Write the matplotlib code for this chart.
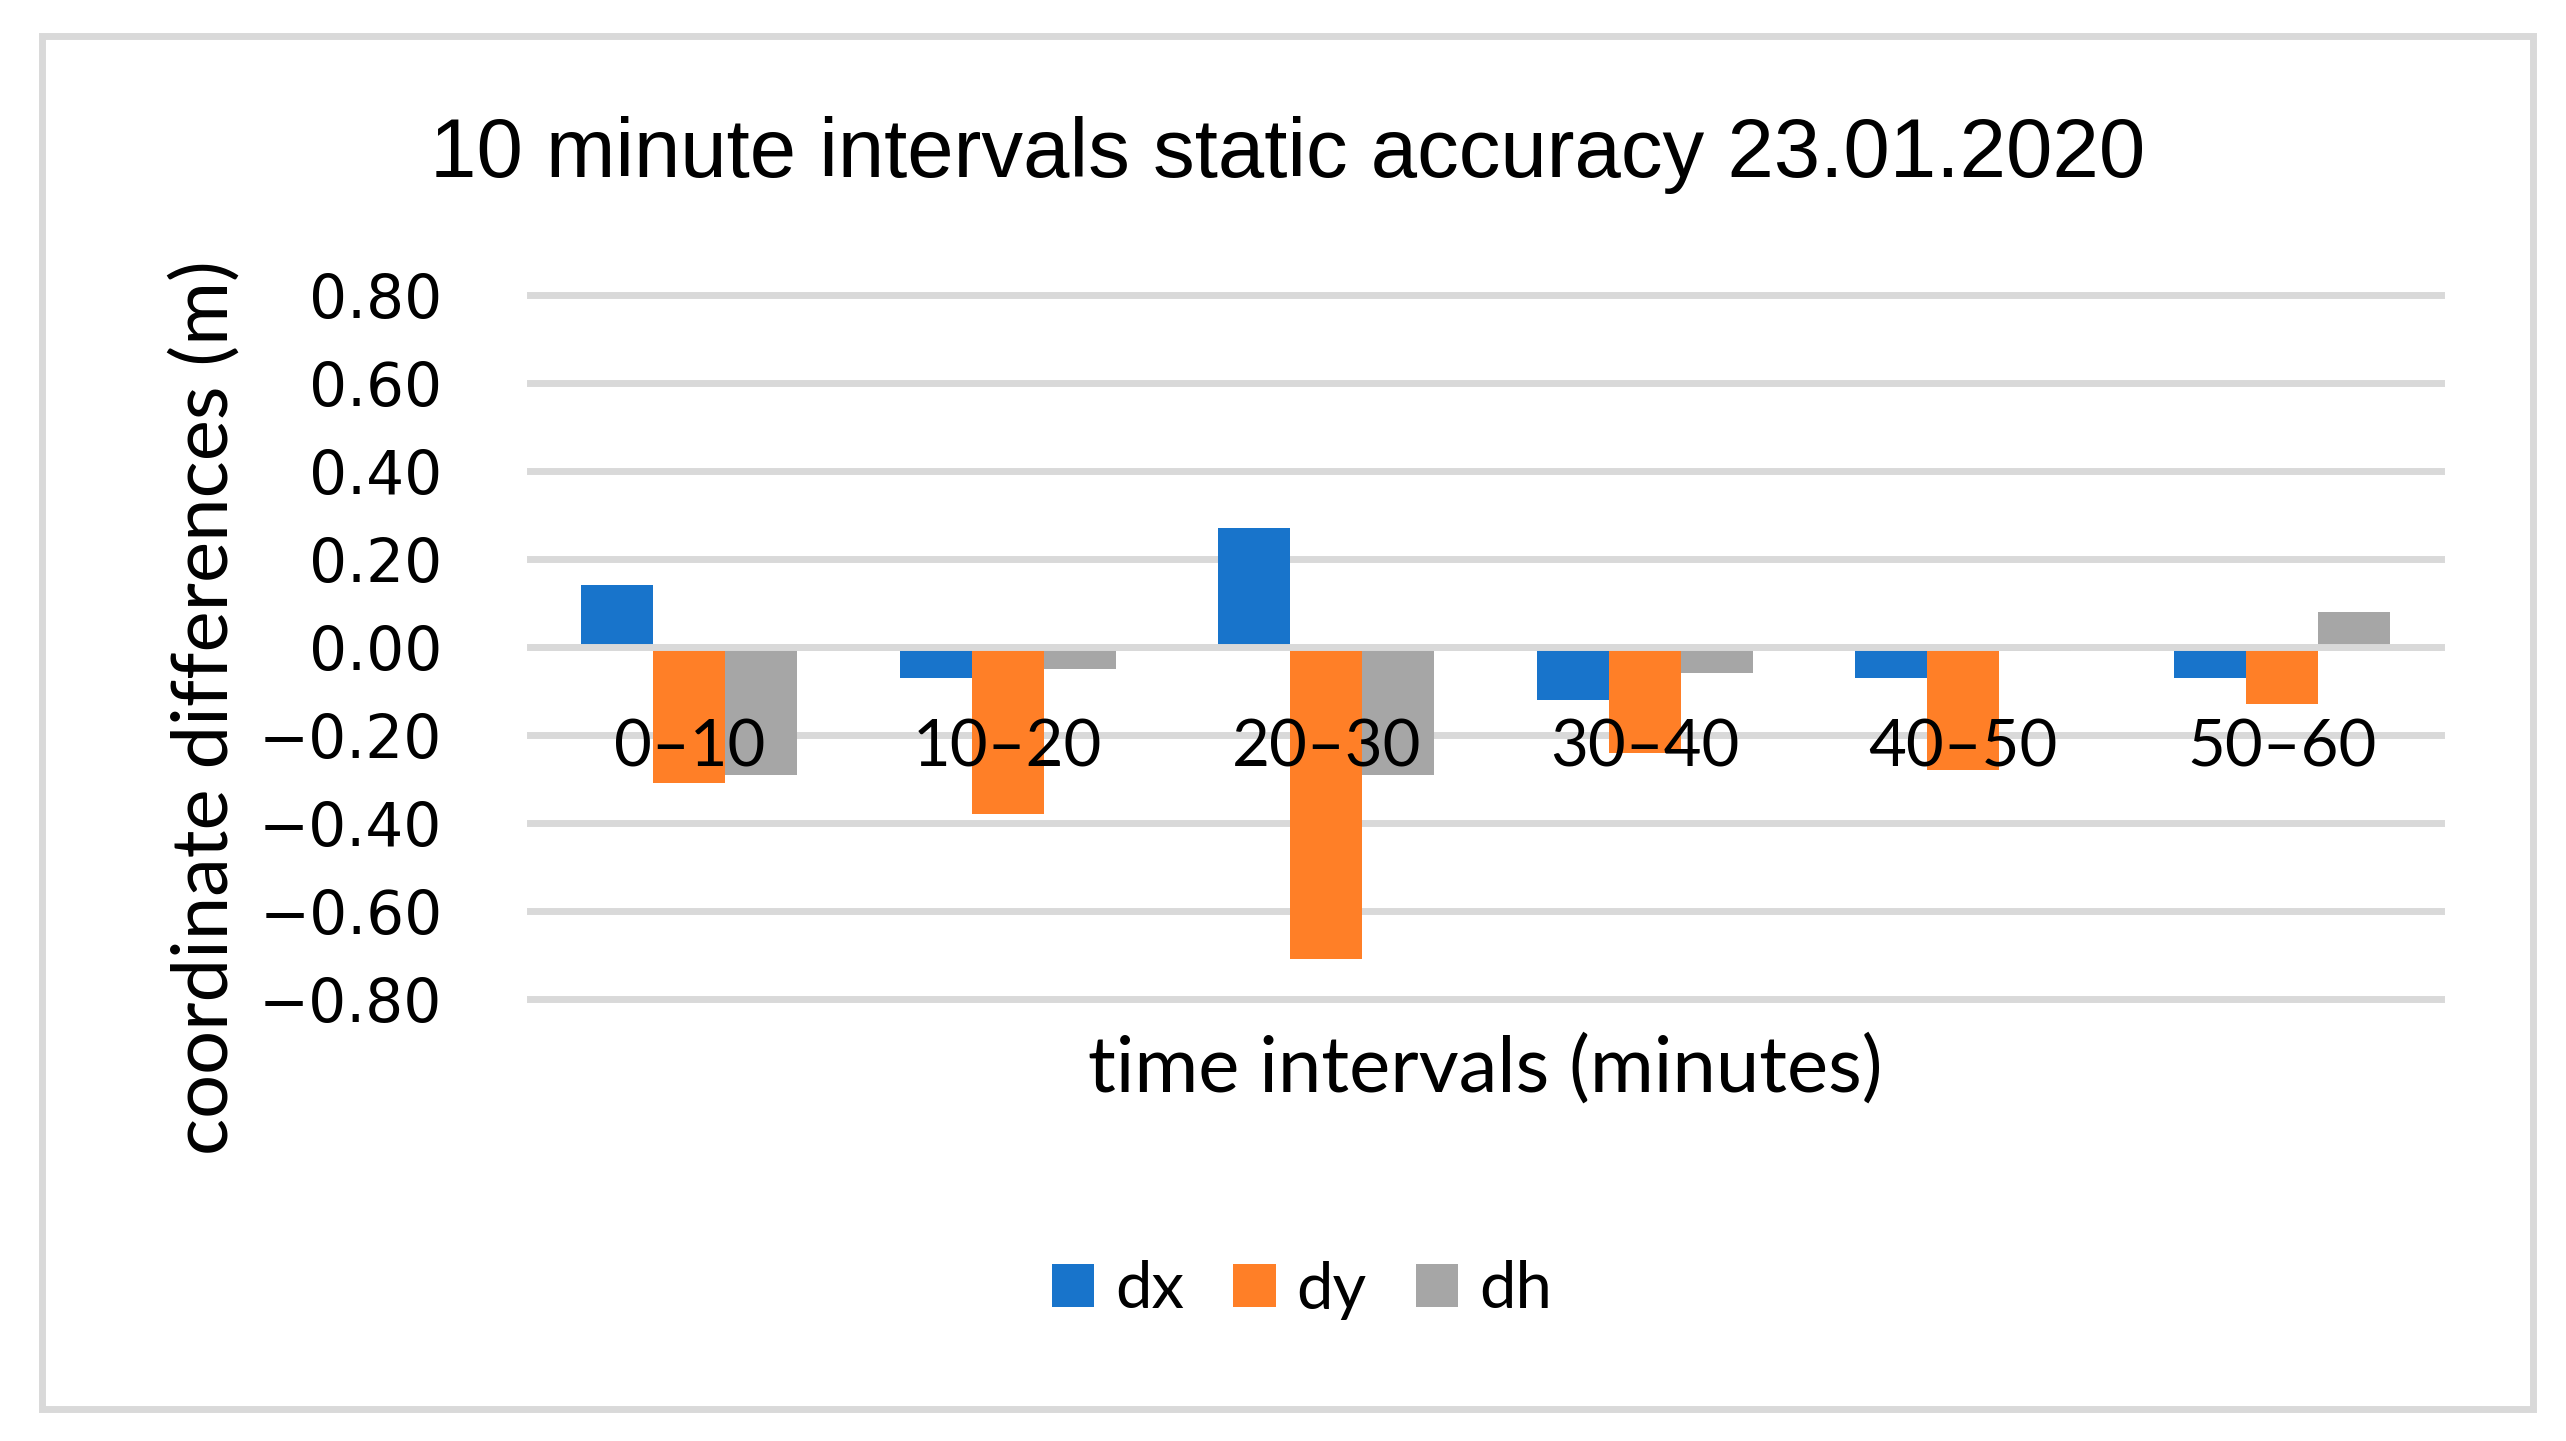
import matplotlib
matplotlib.use("Agg")
import matplotlib.pyplot as plt
from matplotlib.patches import Rectangle
import numpy as np

categories = ["0–10", "10–20", "20–30", "30–40", "40–50", "50–60"]
dx = [0.14, -0.07, 0.27, -0.12, -0.07, -0.07]
dy = [-0.31, -0.38, -0.71, -0.24, -0.28, -0.13]
dh = [-0.29, -0.05, -0.29, -0.06, -0.01, 0.08]
series_names = ["dx", "dy", "dh"]
yticks = [0.80, 0.60, 0.40, 0.20, 0.00, -0.20, -0.40, -0.60, -0.80]

colors = ["#1874CB", "#FF7F27", "#A6A6A6"]
grid_c = "#D9D9D9"

W, H = 2566, 1441
fig = plt.figure(figsize=(W / 100, H / 100), dpi=100)
fig.patch.set_facecolor("white")

# chart border
fig.patches.append(Rectangle((42 / W, 1 - 1409 / H), (2533 - 42) / W, (1409 - 36) / H,
                             transform=fig.transFigure, fill=False,
                             edgecolor=grid_c, linewidth=5))

ax = fig.add_axes([530 / W, 1 - 999 / H, (2441 - 530) / W, (999 - 295) / H])
ax.set_facecolor("none")
ax.set_xlim(-0.5, len(categories) - 0.5)
ax.set_ylim(-0.8, 0.8)

for v in yticks:
    ax.axhline(v, color=grid_c, linewidth=5, zorder=0.5, clip_on=False)

x = np.arange(len(categories))
w = 0.226
for i, (vals, name) in enumerate(zip([dx, dy, dh], series_names)):
    ax.bar(x + (i - 1) * w, vals, width=w, color=colors[i], label=name, zorder=2)

ax.axhline(0, color=grid_c, linewidth=5, zorder=3)

for s in ["top", "right", "left"]:
    ax.spines[s].set_visible(False)
ax.spines["bottom"].set_position(("data", 0))
ax.spines["bottom"].set_visible(False)

ax.set_yticks(yticks)
ax.set_yticklabels([f"{v:.2f}".replace("-", "\u2212") for v in yticks],
                   fontfamily="DejaVu Sans", fontsize=43)
ax.tick_params(axis="y", length=0, pad=63)

ax.set_xticks(x)
ax.set_xticklabels(categories, fontfamily="Lato", fontsize=47)
ax.tick_params(axis="x", length=0, pad=86)
for lab in ax.get_xticklabels():
    lab.set_verticalalignment("baseline")
ax.xaxis.set_zorder(5)

fig.text(1288 / W, 1 - 177 / H, "10 minute intervals static accuracy 23.01.2020",
         ha="center", va="baseline", fontsize=60, fontfamily="Liberation Sans")
fig.text(1485 / W, 1 - 1092 / H, "time intervals (minutes)", ha="center",
         va="baseline", fontsize=56, fontfamily="Lato")
fig.text(228 / W, 1 - 708 / H, "coordinate differences (m)", ha="center",
         va="baseline", rotation=90, rotation_mode="anchor", fontsize=56,
         fontfamily="Lato")

leg = fig.legend(loc="center", bbox_to_anchor=(1302 / W, 1 - 1290 / H), ncol=3,
                 frameon=False, prop={"family": "Lato", "size": 47},
                 handlelength=0.65, handleheight=0.65, handletextpad=0.32,
                 columnspacing=0.75)

fig.savefig("out.png", dpi=100, facecolor="white")
